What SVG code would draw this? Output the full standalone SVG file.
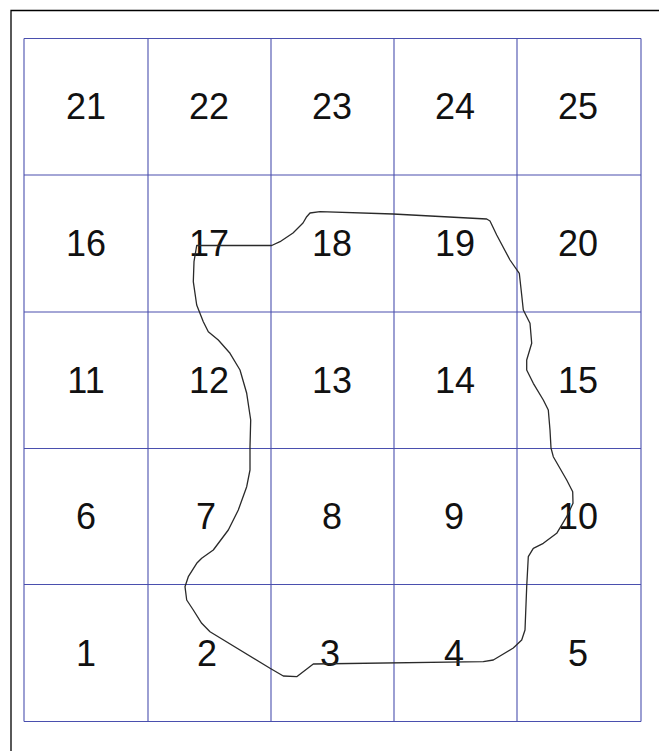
<svg xmlns="http://www.w3.org/2000/svg" width="659" height="751" viewBox="0 0 659 751">
<style>
.frame{fill:none;stroke:#000;stroke-width:1.3}
.grid line{stroke:#4a4fae;stroke-width:1.1}
.num{font-family:"Liberation Sans",Arial,sans-serif;font-size:36px;fill:#111;text-anchor:middle}
.outline{fill:none;stroke:#2a2a2a;stroke-width:1.3;stroke-linejoin:round;stroke-linecap:round}
</style>
<rect x="0" y="0" width="659" height="751" fill="#fff"/>
<path class="frame" d="M11,751 V10.5 H659"/>
<g id="grid" class="grid">
<line x1="24" y1="38.5" x2="641" y2="38.5"/>
<line x1="24" y1="175" x2="641" y2="175"/>
<line x1="24" y1="312" x2="641" y2="312"/>
<line x1="24" y1="448.5" x2="641" y2="448.5"/>
<line x1="24" y1="584.5" x2="641" y2="584.5"/>
<line x1="24" y1="721.5" x2="641" y2="721.5"/>
<line x1="24" y1="38.5" x2="24" y2="721.5"/>
<line x1="148" y1="38.5" x2="148" y2="721.5"/>
<line x1="271" y1="38.5" x2="271" y2="721.5"/>
<line x1="394" y1="38.5" x2="394" y2="721.5"/>
<line x1="517" y1="38.5" x2="517" y2="721.5"/>
<line x1="641" y1="38.5" x2="641" y2="721.5"/>
</g>
<g id="labels">
<text class="num" x="86" y="119">21</text>
<text class="num" x="209" y="119">22</text>
<text class="num" x="332" y="119">23</text>
<text class="num" x="455" y="119">24</text>
<text class="num" x="578" y="119">25</text>
<text class="num" x="86" y="256">16</text>
<text class="num" x="209" y="256">17</text>
<text class="num" x="332" y="256">18</text>
<text class="num" x="455" y="256">19</text>
<text class="num" x="578" y="256">20</text>
<text class="num" x="86" y="393">11</text>
<text class="num" x="209" y="393">12</text>
<text class="num" x="332" y="393">13</text>
<text class="num" x="455" y="393">14</text>
<text class="num" x="578" y="393">15</text>
<text class="num" x="86" y="529">6</text>
<text class="num" x="206" y="529">7</text>
<text class="num" x="332" y="529">8</text>
<text class="num" x="454" y="529">9</text>
<text class="num" x="578" y="529">10</text>
<text class="num" x="86" y="666">1</text>
<text class="num" x="207" y="666">2</text>
<text class="num" x="330" y="666">3</text>
<text class="num" x="454" y="666">4</text>
<text class="num" x="578" y="666">5</text>
</g>
<g id="boundary">
<path class="outline" d="M196.7,245.5 L271.7,245.5 L280,241.7 L293,233 L303,223 L306.7,216.7 L310,213 L320,211.7 L393,214 L486.7,219 L490,221 L496.7,235 L510,260 L519.3,273.3 L521.7,295 L523.3,310 L530,323.3 L531.7,343.3 L526.7,360 L526.7,370 L533.3,383.3 L543.3,400 L548.3,410 L550,430 L551,448 L553.3,456.7 L566.7,480 L572.7,491.7 L573,503.3 L566.7,516.7 L556.7,533.3 L543.3,543.3 L533.3,548.3 L528.3,556.7 L526.7,586.7 L525,630 L521.7,640 L513.3,648 L500,656 L493.3,660 L483.3,661.7 L313.3,664 L296.7,676.7 L283.3,676 L270,668.3 L210,631.7 L201.7,623.3 L193.3,610 L186.7,600 L185,586.7 L188.3,576.7 L196.7,563.3 L201.7,558.3 L213.3,550 L228.3,530 L238.3,510 L246.7,486.7 L250,470 L250,446.7 L250.7,420 L246.7,393.3 L240,370 L230,353.3 L218.3,340 L208.3,331.7 L203.3,321.7 L196.7,305 L193.3,281.7 L194,261.7 Z"/>
</g>
</svg>
